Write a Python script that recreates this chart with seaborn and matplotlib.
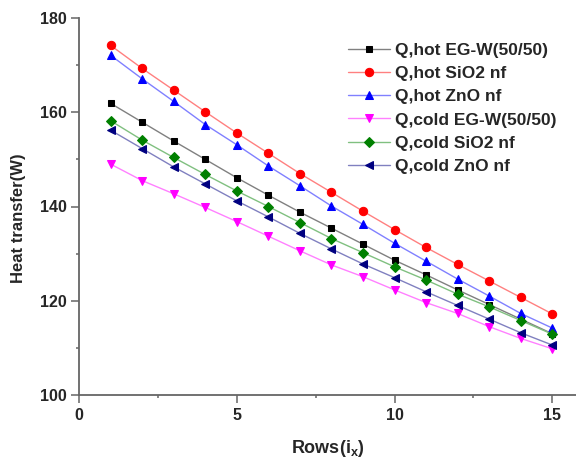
import numpy as np
import pandas as pd
import matplotlib
matplotlib.use("Agg")
import matplotlib.pyplot as plt
import matplotlib.colors as mcolors
import seaborn as sns

rows = list(range(1, 16))
q_hot_egw = [161.9, 157.9, 153.9, 150.0, 146.1, 142.4, 138.8, 135.4, 132.0, 128.6, 125.5, 122.3, 119.2, 116.1, 113.0]
q_hot_sio2 = [174.2, 169.3, 164.7, 160.1, 155.6, 151.3, 147.0, 143.0, 139.0, 135.1, 131.3, 127.7, 124.2, 120.7, 117.2]
q_hot_zno = [172.1, 167.1, 162.3, 157.4, 153.1, 148.6, 144.4, 140.1, 136.2, 132.2, 128.4, 124.6, 121.0, 117.3, 114.2]
q_cold_egw = [149.0, 145.5, 142.7, 139.8, 136.8, 133.7, 130.6, 127.6, 125.1, 122.3, 119.6, 117.3, 114.5, 112.0, 109.8]
q_cold_sio2 = [158.2, 154.1, 150.4, 146.8, 143.3, 140.0, 136.6, 133.2, 130.2, 127.2, 124.4, 121.4, 118.7, 115.8, 112.9]
q_cold_zno = [156.2, 152.3, 148.4, 144.8, 141.2, 137.8, 134.3, 131.0, 127.8, 124.9, 121.9, 119.0, 116.1, 113.2, 110.6]

series_names = ["Q,hot EG-W(50/50)", "Q,hot SiO2 nf", "Q,hot ZnO nf",
                "Q,cold EG-W(50/50)", "Q,cold SiO2 nf", "Q,cold ZnO nf"]
series_values = [q_hot_egw, q_hot_sio2, q_hot_zno, q_cold_egw, q_cold_sio2, q_cold_zno]
colors = ["#000000", "#ff0000", "#0000ff", "#ff00ff", "#008000", "#000080"]
markers = ["s", "o", "^", "v", "D", "<"]
msizes = [5.0, 6.0, 6.0, 6.0, 4.6, 6.0]

x_ticks = [0, 5, 10, 15]
y_ticks = [100, 120, 140, 160, 180]

sns.set_style("ticks")
plt.rcParams["font.family"] = ["Liberation Sans", "DejaVu Sans"]
plt.rcParams["font.weight"] = "bold"
plt.rcParams["mathtext.fontset"] = "custom"
plt.rcParams["mathtext.rm"] = "Liberation Sans:bold"
plt.rcParams["mathtext.bf"] = "Liberation Sans:bold"
plt.rcParams["mathtext.it"] = "Liberation Sans:bold"

fig = plt.figure(figsize=(5.76, 4.58), dpi=100)
ax = fig.add_axes([79 / 576, 63 / 458, 497 / 576, 377 / 458])

def lighten(c, amt=0.5):
    r, g, b = mcolors.to_rgb(c)
    return (r + (1 - r) * amt, g + (1 - g) * amt, b + (1 - b) * amt)

for name, vals, c, m, ms in zip(series_names, series_values, colors, markers, msizes):
    df = pd.DataFrame({"Rows": rows, "Q": vals})
    sns.lineplot(data=df, x="Rows", y="Q", ax=ax, color=lighten(c, 0.5),
                 linewidth=1.0, marker=m, markersize=ms,
                 markerfacecolor=c, markeredgecolor=c, label=name)

ax.set_xlim(0, 15.75)
ax.set_ylim(100, 180)
ax.set_xticks(x_ticks)
ax.set_yticks(y_ticks)
ax.set_xticks([2.5, 7.5, 12.5], minor=True)
ax.set_yticks([110, 130, 150, 170], minor=True)
ax.tick_params(axis="both", which="major", direction="out", length=5.5, width=1.1,
               color="#666666", labelsize=11.5, pad=3)
ax.tick_params(axis="x", which="major", pad=4)
ax.tick_params(axis="both", which="minor", direction="out", length=2.5, width=1.1,
               color="#666666")
for lbl in ax.get_xticklabels() + ax.get_yticklabels():
    lbl.set_fontweight("bold")

sns.despine(ax=ax, top=True, right=True)
for sp in ["left", "bottom"]:
    ax.spines[sp].set_color("#666666")
    ax.spines[sp].set_linewidth(1.3)

ax.set_xlabel("Rows(i$_{\\mathbf{x}}$)", fontsize=13, fontweight="bold", labelpad=11)
ax.set_ylabel("Heat transfer(W)", fontsize=12, fontweight="bold")
ax.yaxis.set_label_coords(-0.107, 0.47)

leg = ax.legend(loc="upper left", bbox_to_anchor=(348 / 576, 1 - 43 / 458),
                bbox_transform=fig.transFigure, frameon=False,
                prop={"weight": "bold", "size": 12.5}, handlelength=2.4,
                handletextpad=0.3, labelspacing=0.46, borderpad=0, borderaxespad=0)

fig.savefig("out.png", dpi=100)
